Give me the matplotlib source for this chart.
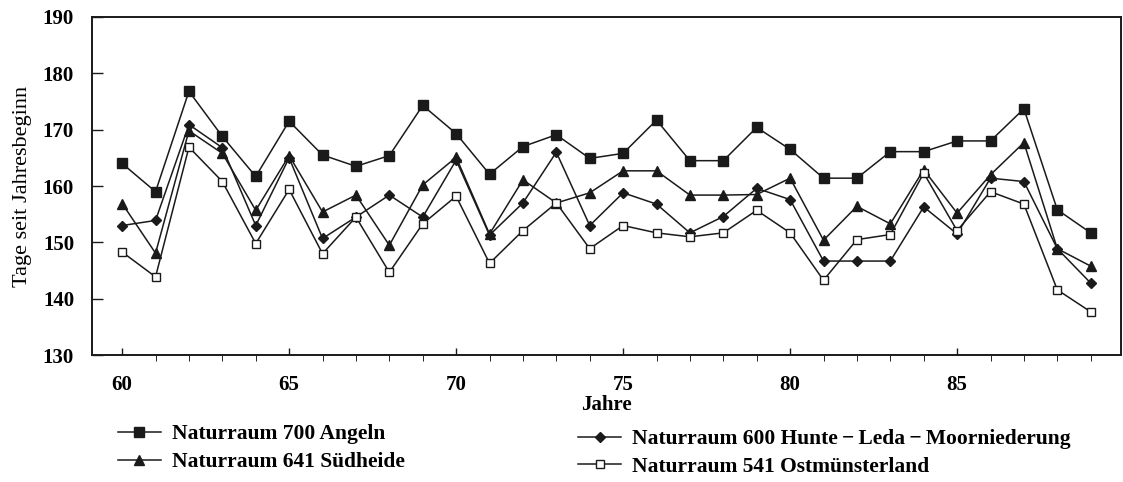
import numpy as np
import matplotlib
matplotlib.use("Agg")
import matplotlib.pyplot as plt

plt.rcParams['font.family'] = ['Liberation Serif', 'DejaVu Serif']

jahre = list(range(60, 90))

angeln = [164.0, 159.0, 176.8, 168.8, 161.7, 171.5, 165.5, 163.5, 165.4, 174.3,
          169.3, 162.1, 167.0, 169.1, 164.9, 165.8, 171.7, 164.5, 164.5, 170.4,
          166.5, 161.4, 161.4, 166.1, 166.1, 168.0, 168.0, 173.7, 155.8, 151.7]
suedheide = [156.9, 148.1, 169.8, 165.8, 155.7, 165.4, 155.4, 158.4, 149.5, 160.2,
             165.1, 151.5, 161.1, 157.0, 158.8, 162.7, 162.7, 158.4, 158.4, 158.5,
             161.4, 150.4, 156.4, 153.3, 162.9, 155.2, 162.0, 167.7, 148.9, 145.8]
hunte = [153.0, 153.9, 170.9, 166.8, 153.0, 165.0, 150.7, 154.5, 158.4, 154.5,
         164.6, 151.3, 157.0, 166.0, 153.0, 158.8, 156.8, 151.7, 154.6, 159.6,
         157.6, 146.7, 146.7, 146.7, 156.3, 151.5, 161.4, 160.8, 148.9, 142.8]
ostmuenster = [148.3, 143.9, 166.9, 160.8, 149.8, 159.4, 148.0, 154.5, 144.7, 153.3,
               158.2, 146.3, 152.1, 157.0, 148.9, 153.0, 151.7, 151.0, 151.7, 155.7,
               151.7, 143.3, 150.5, 151.4, 162.3, 152.1, 159.0, 156.8, 141.6, 137.7]

namen = ["Naturraum 700 Angeln",
         "Naturraum 641 Südheide",
         "Naturraum 600 Hunte\u2009\u2212\u2009Leda\u2009\u2212\u2009Moorniederung",
         "Naturraum 541 Ostmünsterland"]

fig = plt.figure(figsize=(11.23, 4.82), dpi=100)
ax = fig.add_axes([0.082, 0.263, 0.916, 0.702])

farbe = "#1a1a1a"
l1, = ax.plot(jahre, angeln, color=farbe, lw=1.1, marker="s", ms=6.5, mfc=farbe, mec=farbe)
l2, = ax.plot(jahre, suedheide, color=farbe, lw=1.1, marker="^", ms=7, mfc=farbe, mec=farbe)
l3, = ax.plot(jahre, hunte, color=farbe, lw=1.1, marker="D", ms=5, mfc=farbe, mec=farbe)
l4, = ax.plot(jahre, ostmuenster, color=farbe, lw=1.1, marker="s", ms=5.5, mfc="white", mec=farbe, mew=1.0)

ax.set_xlim(59.1, 89.9)
ax.set_ylim(130, 190)
ax.set_xticks([60, 65, 70, 75, 80, 85])
ax.set_xticks(jahre, minor=True)
ax.set_yticks(np.arange(130, 191, 10))
ax.tick_params(axis="both", direction="in", labelsize=15, width=1.0, color=farbe)
ax.tick_params(axis="y", length=8, pad=13)
ax.tick_params(axis="x", which="major", length=5, pad=14)
ax.tick_params(axis="x", which="minor", length=4)
for lab in ax.get_xticklabels() + ax.get_yticklabels():
    lab.set_fontweight("bold")
for sp in ax.spines.values():
    sp.set_linewidth(1.4)
    sp.set_color(farbe)

ax.set_ylabel("Tage seit Jahresbeginn", fontsize=16, labelpad=8)
ax.set_xlabel("Jahre", fontsize=15, fontweight="bold", labelpad=0)

leg_opts = dict(loc="upper left", frameon=False, borderpad=0, borderaxespad=0,
                handlelength=2.0, handletextpad=0.5, labelspacing=0.36,
                prop={"size": 15.5, "weight": "bold"})
fig.legend([l1, l2], namen[:2], bbox_to_anchor=(0.105, 0.12), **leg_opts)
fig.legend([l3, l4], namen[2:], bbox_to_anchor=(0.515, 0.11), **leg_opts)

fig.savefig("out.png", dpi=100)
